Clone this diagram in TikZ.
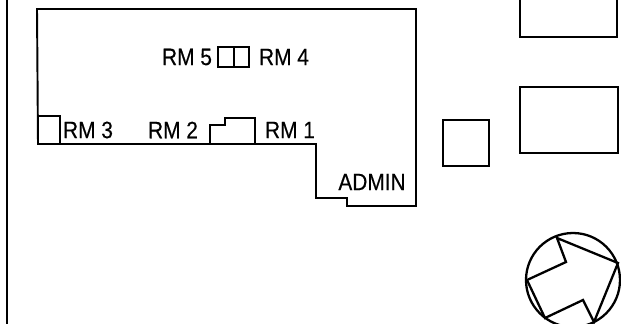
\documentclass[tikz,border=0pt]{standalone}
\usepackage{fontspec}
\setmainfont[FakeStretch=.88, FakeBold=.4]{Liberation Sans}
\begin{document}
\begin{tikzpicture}[x=.2mm, y=-.2mm]

      \tikzset{wall/.style={draw, line width=1.1pt, line join=miter}}
      \tikzset{roomlabel/.style={inner sep=0pt, font=\fontsize{13.5}{15}\selectfont}}
      \useasboundingbox (0,0) rectangle (621,323);
      \clip (0,0) rectangle (621,323);
%% Labels
      	\node[roomlabel] (rm5) at (187,57) {RM 5};
      	\node[roomlabel] (rm4) at (284,57) {RM 4};
      	\node[roomlabel] (rm3) at (88,130) {RM 3};
      	\node[roomlabel] (rm2) at (173,130) {RM 2};
      	\node[roomlabel] (rm1) at (290,130) {RM 1};
      	\node[roomlabel] (admin) at (372,182) {ADMIN};
%Boundary
		\draw [line width=1.7pt] (7,-5) -- (7,330);
%Building
		\draw [wall] (37,9) -- (416,9) -- (416,206) -- (347,206) -- (347,198) -- (316,198) -- (316,144) -- (38,144) -- cycle;
		\draw [wall] (39,116) -- (60,116) -- (60,144);
		\draw [wall] (210,144) -- (210,125) -- (225,125) -- (225,118) -- (255,118) -- (255,144);
		\draw [wall] (218,47) rectangle (249,67);
		\draw [wall] (234,47) -- (234,67);
%Outbuildings
		\draw [wall] (443,120) rectangle (489,166);
		\draw [wall] (520,87) rectangle (618,153);
		\draw [wall] (520,-5) -- (520,37) -- (617,37) -- (617,-5);
%Round building
		\draw [wall, line width=1.3pt] (573,280) circle (47);
		\draw [wall, line width=1.3pt] (557,238) -- (618,263) -- (594,322) -- (583,300) -- (545,318) -- (527,280) -- (566,262) -- cycle;

	\end{tikzpicture}
\end{document}
